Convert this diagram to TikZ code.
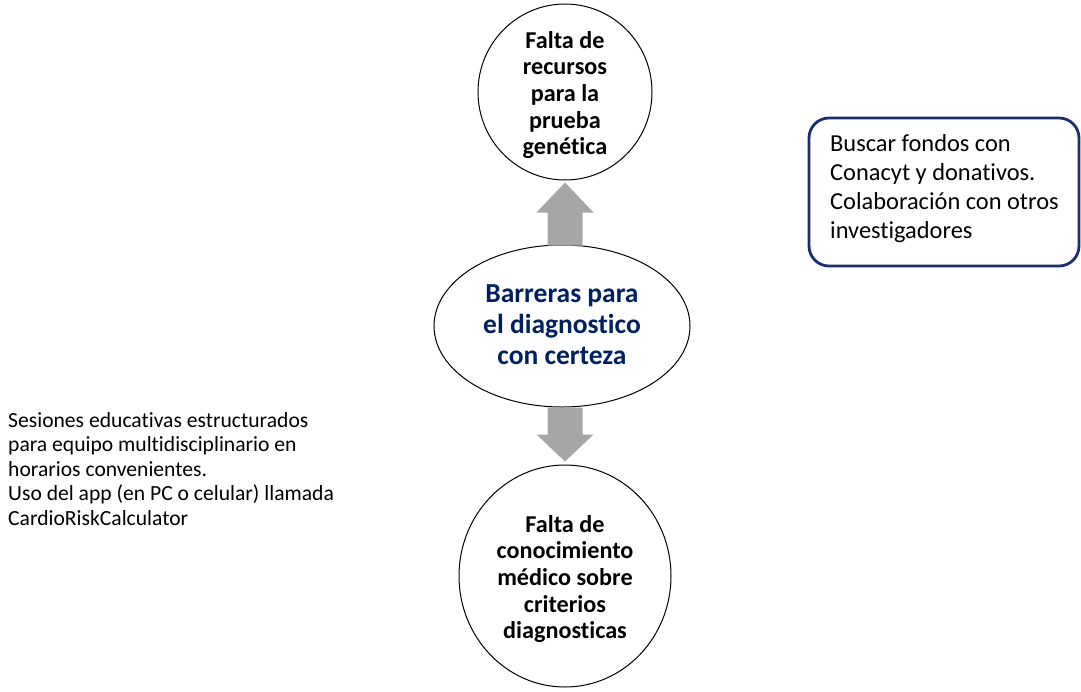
\documentclass[tikz,border=0pt]{standalone}
\usepackage{fontspec}
\setmainfont{Carlito}[Ligatures=NoCommon]
\usetikzlibrary{shapes.geometric,calc}
\definecolor{navy}{HTML}{002060}
\definecolor{boxnavy}{HTML}{1A2E6B}
\definecolor{arrowgray}{HTML}{A6A6A6}
\tikzset{
  bubble/.style={draw=black, line width=1pt, ellipse, inner sep=0pt, fill=white},
  bubtext/.style={font=\bfseries\fontsize{24.2}{26.7}\selectfont, align=center, inner sep=0pt},
  maintext/.style={font=\bfseries\fontsize{27.5}{31}\selectfont, text=navy, align=center, inner sep=0pt},
  notebox/.style={draw=boxnavy, line width=2.8pt, rounded corners=20pt, minimum width=270pt, minimum height=148pt, inner sep=0pt},
  notetext/.style={font=\fontsize{24.4}{29}\selectfont, align=left, inner sep=0pt, anchor=north west},
  sidetext/.style={font=\fontsize{21.6}{24.5}\selectfont, align=left, inner sep=0pt, anchor=north west},
  blockarrow/.style={fill=arrowgray, draw=none}
}
\begin{document}
\begin{tikzpicture}[x=1pt,y=-1pt]
\useasboundingbox (0,0) rectangle (1081,691);
% shapes
\node[bubble, minimum width=174pt, minimum height=176pt] (top) at (565,92) {};
\node[bubble, minimum width=256pt, minimum height=162pt] (mid) at (562,326) {};
\node[bubble, minimum width=212pt, minimum height=222pt] (bot) at (565,576) {};
\node[notebox] (box) at (944,192) {};
% texts
\node[bubtext] (toptext) at ($(top)+(0,3)$) {Falta de\\recursos\\para la\\prueba\\genética};
\node[maintext] (midtext) at ($(mid)+(0,-1)$) {Barreras para\\el diagnostico\\con certeza};
\node[bubtext] (bottext) at ($(bot)+(0,3)$) {Falta de\\conocimiento\\médico sobre\\criterios\\diagnosticas};
\node[notetext] (boxtext) at (830,134) {Buscar fondos con\\Conacyt y donativos.\\Colaboración con otros\\investigadores};
\node[sidetext] (side) at (8,412) {Sesiones educativas estructurados\\para equipo multidisciplinario en\\horarios convenientes.\\Uso del app (en PC o celular) llamada\\CardioRiskCalculator};
% block arrows
\coordinate (upbase) at (mid.north -| top.south);
\coordinate (uptip) at ($(top.south)+(0,2)$);
\fill[blockarrow] ($(upbase)+(-17.5,1)$) -- ($(uptip)+(-17.5,30)$) -- ($(uptip)+(-28.5,30)$) -- (uptip)
  -- ($(uptip)+(28.5,30)$) -- ($(uptip)+(17.5,30)$) -- ($(upbase)+(17.5,1)$) -- cycle;
\coordinate (dnbase) at (mid.south -| bot.north);
\coordinate (dntip) at ($(bot.north)+(0,-3)$);
\fill[blockarrow] ($(dnbase)+(-17.5,0)$) -- ($(dntip)+(-17.5,-27)$) -- ($(dntip)+(-28.5,-27)$) -- (dntip)
  -- ($(dntip)+(28.5,-27)$) -- ($(dntip)+(17.5,-27)$) -- ($(dnbase)+(17.5,0)$) -- cycle;
\end{tikzpicture}
\end{document}
